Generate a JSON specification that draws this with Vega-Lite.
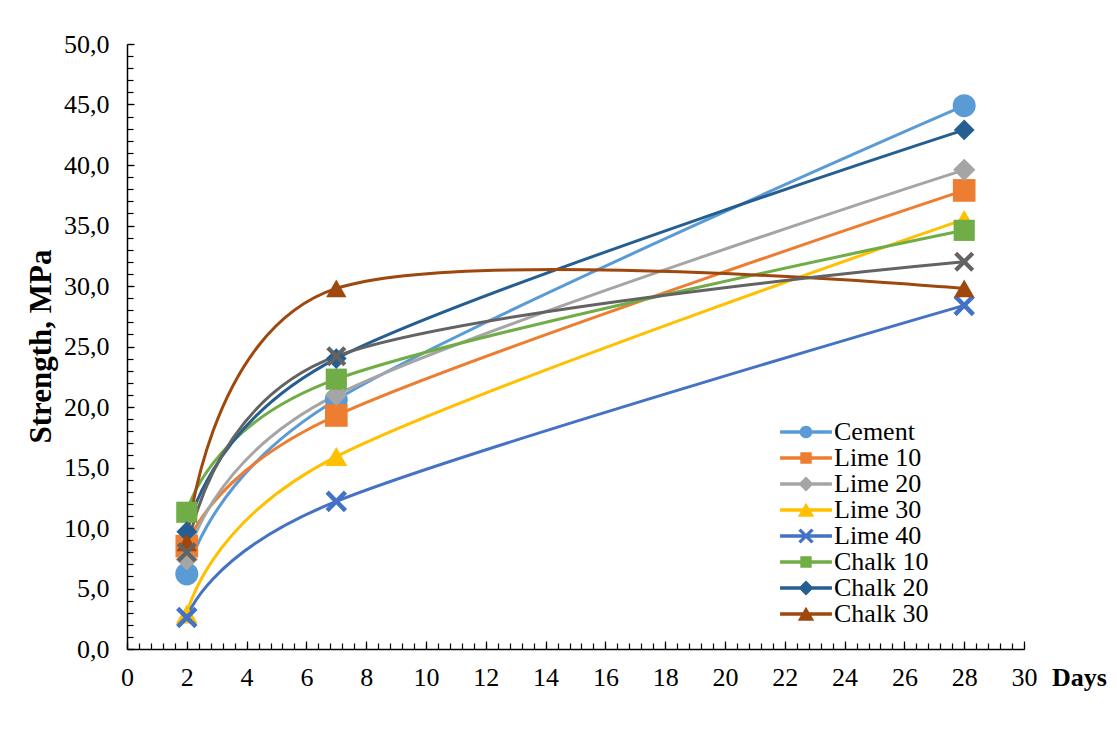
{
  "$schema": "https://vega.github.io/schema/vega-lite/v6.json",
  "width": 897,
  "height": 605,
  "autosize": {"type": "none"},
  "padding": {"left": 127, "top": 44, "right": 93, "bottom": 82},
  "background": "white",
  "config": {"view": {"stroke": null}, "font": "Liberation Serif", "axis": {"grid": false}},
  "data": {"values": [
    {"series": "Cement", "day": 2, "strength": 6.2},
    {"series": "Cement", "day": 7, "strength": 20.6},
    {"series": "Cement", "day": 28, "strength": 44.9},
    {"series": "Lime 10", "day": 2, "strength": 8.5},
    {"series": "Lime 10", "day": 7, "strength": 19.3},
    {"series": "Lime 10", "day": 28, "strength": 37.9},
    {"series": "Lime 20", "day": 2, "strength": 7.4},
    {"series": "Lime 20", "day": 7, "strength": 21.0},
    {"series": "Lime 20", "day": 28, "strength": 39.6},
    {"series": "Lime 30", "day": 2, "strength": 2.9},
    {"series": "Lime 30", "day": 7, "strength": 15.9},
    {"series": "Lime 30", "day": 28, "strength": 35.5},
    {"series": "Lime 40", "day": 2, "strength": 2.6},
    {"series": "Lime 40", "day": 7, "strength": 12.2},
    {"series": "Lime 40", "day": 28, "strength": 28.4},
    {"series": "Chalk 10", "day": 2, "strength": 11.3},
    {"series": "Chalk 10", "day": 7, "strength": 22.3},
    {"series": "Chalk 10", "day": 28, "strength": 34.6},
    {"series": "Chalk 20", "day": 2, "strength": 9.7},
    {"series": "Chalk 20", "day": 7, "strength": 24.0},
    {"series": "Chalk 20", "day": 28, "strength": 42.9},
    {"series": "Chalk 30", "day": 2, "strength": 8.8},
    {"series": "Chalk 30", "day": 7, "strength": 29.8},
    {"series": "Chalk 30", "day": 28, "strength": 29.8},
    {"series": "Series 9", "day": 2, "strength": 8.0},
    {"series": "Series 9", "day": 7, "strength": 24.2},
    {"series": "Series 9", "day": 28, "strength": 32.0}
  ]},
  "resolve": {"axis": {"x": "independent", "y": "independent"}, "scale": {"shape": "independent", "fill": "independent"}},
  "layer": [
    {
      "transform": [{"filter": "datum.series !== 'Series 9'"}],
      "mark": {"type": "line", "interpolate": "cardinal", "strokeWidth": 3},
      "encoding": {
        "x": {"field": "day", "type": "quantitative", "scale": {"domain": [0, 30], "nice": false},
          "axis": {"orient": "bottom", "values": [0,2,4,6,8,10,12,14,16,18,20,22,24,26,28,30], "format": "d",
            "ticks": false, "tickSize": 0, "domain": true, "domainColor": "black", "domainWidth": 1.5,
            "labelFont": "Liberation Serif", "labelFontSize": 26, "labelColor": "black", "labelPadding": 15,
            "labelFlush": false, "labelOverlap": false,
            "title": "Days", "titleFont": "Liberation Serif", "titleFontSize": 26, "titleFontWeight": "bold", "titleColor": "black",
            "titleX": 952, "titleY": 36, "titleAlign": "center", "titleBaseline": "alphabetic"}},
        "y": {"field": "strength", "type": "quantitative", "scale": {"domain": [0, 50], "nice": false},
          "axis": {"orient": "left", "values": [0,5,10,15,20,25,30,35,40,45,50],
            "ticks": false, "tickSize": 0, "domain": true, "domainColor": "black", "domainWidth": 1.5,
            "labelFont": "Liberation Serif", "labelFontSize": 26, "labelColor": "black", "labelPadding": 18,
            "labelFlush": false, "labelOverlap": false,
            "labelExpr": "replace(format(datum.value, '.1f'), '.', ',')",
            "title": "Strength, MPa", "titleFont": "Liberation Serif", "titleFontSize": 31, "titleFontWeight": "bold", "titleColor": "black",
            "titleX": -86, "titleY": 302, "titleAngle": -90, "titleAlign": "center", "titleBaseline": "middle"}},
        "stroke": {"field": "series", "type": "nominal",
          "scale": {"domain": ["Cement", "Lime 10", "Lime 20", "Lime 30", "Lime 40", "Chalk 10", "Chalk 20", "Chalk 30"],
                    "range": ["#5B9BD5", "#ED7D31", "#A5A5A5", "#FFC000", "#4472C4", "#70AD47", "#255E91", "#9E480E"]},
          "legend": null}
      }
    },
    {
      "transform": [{"filter": "datum.series === 'Series 9'"}],
      "mark": {"type": "line", "interpolate": "cardinal", "strokeWidth": 3, "stroke": "#636363"},
      "encoding": {
        "x": {"field": "day", "type": "quantitative", "scale": {"domain": [0, 30], "nice": false},
          "axis": {"orient": "bottom", "values": [0,0.4,0.8,1.2,1.6,2,2.4,2.8,3.2,3.6,4,4.4,4.8,5.2,5.6,6,6.4,6.8,7.2,7.6,8,8.4,8.8,9.2,9.6,10,10.4,10.8,11.2,11.6,12,12.4,12.8,13.2,13.6,14,14.4,14.8,15.2,15.6,16,16.4,16.8,17.2,17.6,18,18.4,18.8,19.2,19.6,20,20.4,20.8,21.2,21.6,22,22.4,22.8,23.2,23.6,24,24.4,24.8,25.2,25.6,26,26.4,26.8,27.2,27.6,28,28.4,28.8,29.2,29.6,30],
            "labels": false, "domain": false, "ticks": true, "tickSize": -6, "tickColor": "black", "tickWidth": 1.2, "title": null}},
        "y": {"field": "strength", "type": "quantitative", "scale": {"domain": [0, 50], "nice": false},
          "axis": {"orient": "left", "values": [0,1,2,3,4,5,6,7,8,9,10,11,12,13,14,15,16,17,18,19,20,21,22,23,24,25,26,27,28,29,30,31,32,33,34,35,36,37,38,39,40,41,42,43,44,45,46,47,48,49,50],
            "labels": false, "domain": false, "ticks": true, "tickSize": -6, "tickColor": "black", "tickWidth": 1.2, "title": null}}
      }
    },
    {
      "mark": {"type": "point", "filled": true, "opacity": 1, "strokeWidth": 0},
      "encoding": {
        "x": {"field": "day", "type": "quantitative", "scale": {"domain": [0, 30], "nice": false},
          "axis": {"orient": "bottom", "values": [0,2,4,6,8,10,12,14,16,18,20,22,24,26,28,30],
            "labels": false, "domain": false, "ticks": true, "tickSize": -8, "tickColor": "black", "tickWidth": 1.2, "title": null}},
        "y": {"field": "strength", "type": "quantitative", "scale": {"domain": [0, 50], "nice": false},
          "axis": {"orient": "left", "values": [0,5,10,15,20,25,30,35,40,45,50],
            "labels": false, "domain": false, "ticks": true, "tickSize": -7, "tickColor": "black", "tickWidth": 1.2, "title": null}},
        "fill": {"field": "series", "type": "nominal",
          "scale": {"domain": ["Cement", "Lime 10", "Lime 20", "Lime 30", "Lime 40", "Chalk 10", "Chalk 20", "Chalk 30", "Series 9"],
                    "range": ["#5B9BD5", "#ED7D31", "#A5A5A5", "#FFC000", "#4472C4", "#70AD47", "#255E91", "#9E480E", "#636363"]},
          "legend": null},
        "shape": {"field": "series", "type": "nominal",
          "scale": {"domain": ["Cement", "Lime 10", "Lime 20", "Lime 30", "Lime 40", "Chalk 10", "Chalk 20", "Chalk 30", "Series 9"],
                    "range": ["circle", "square", "diamond", "triangle-up", "M-1,-0.7L-0.7,-1L0,-0.3L0.7,-1L1,-0.7L0.3,0L1,0.7L0.7,1L0,0.3L-0.7,1L-1,0.7L-0.3,0Z", "square", "diamond", "triangle-up", "M-1,-0.7L-0.7,-1L0,-0.3L0.7,-1L1,-0.7L0.3,0L1,0.7L0.7,1L0,0.3L-0.7,1L-1,0.7L-0.3,0Z"]},
          "legend": null},
        "size": {"field": "series", "type": "nominal",
          "scale": {"domain": ["Cement", "Lime 10", "Lime 20", "Lime 30", "Lime 40", "Chalk 10", "Chalk 20", "Chalk 30", "Series 9"],
                    "range": [529, 400, 650, 441, 400, 400, 650, 441, 400]},
          "legend": null}
      }
    },
    {
      "transform": [{"filter": "datum.series !== 'Series 9'"}],
      "mark": {"type": "point", "filled": true, "opacity": 0, "strokeWidth": 0},
      "encoding": {
        "x": {"field": "day", "type": "quantitative", "scale": {"domain": [0, 30], "nice": false}, "axis": null},
        "y": {"field": "strength", "type": "quantitative", "scale": {"domain": [0, 50], "nice": false}, "axis": null},
        "fill": {"field": "series", "type": "nominal",
          "scale": {"domain": ["Cement", "Lime 10", "Lime 20", "Lime 30", "Lime 40", "Chalk 10", "Chalk 20", "Chalk 30"],
                    "range": ["#5B9BD5", "#ED7D31", "#A5A5A5", "#FFC000", "#4472C4", "#70AD47", "#255E91", "#9E480E"]},
          "legend": {"orient": "none", "legendX": 666, "legendY": 375, "direction": "vertical", "title": null,
            "symbolSize": 160, "symbolStrokeWidth": 0, "symbolOpacity": 1,
            "labelFont": "Liberation Serif", "labelFontSize": 26, "labelColor": "black", "labelOffset": 15,
            "rowPadding": 0, "padding": 0}},
        "shape": {"field": "series", "type": "nominal",
          "scale": {"domain": ["Cement", "Lime 10", "Lime 20", "Lime 30", "Lime 40", "Chalk 10", "Chalk 20", "Chalk 30"],
                    "range": [
                      "M-4.1,-0.27L4.1,-0.27L4.1,0.27L-4.1,0.27ZM-1,0A1,1 0 1,1 1,0A1,1 0 1,1 -1,0Z",
                      "M-4.1,-0.27L4.1,-0.27L4.1,0.27L-4.1,0.27ZM-0.9,-0.9L0.9,-0.9L0.9,0.9L-0.9,0.9Z",
                      "M-4.1,-0.27L4.1,-0.27L4.1,0.27L-4.1,0.27ZM-1.2,0L0,-1.2L1.2,0L0,1.2Z",
                      "M-4.1,-0.27L4.1,-0.27L4.1,0.27L-4.1,0.27ZM0,-1.15L1.3,1.05L-1.3,1.05Z",
                      "M-4.1,-0.27L4.1,-0.27L4.1,0.27L-4.1,0.27ZM-1.2,-0.84L-0.84,-1.2L0,-0.36L0.84,-1.2L1.2,-0.84L0.36,0L1.2,0.84L0.84,1.2L0,0.36L-0.84,1.2L-1.2,0.84L-0.36,0Z",
                      "M-4.1,-0.27L4.1,-0.27L4.1,0.27L-4.1,0.27ZM-0.9,-0.9L0.9,-0.9L0.9,0.9L-0.9,0.9Z",
                      "M-4.1,-0.27L4.1,-0.27L4.1,0.27L-4.1,0.27ZM-1.2,0L0,-1.2L1.2,0L0,1.2Z",
                      "M-4.1,-0.27L4.1,-0.27L4.1,0.27L-4.1,0.27ZM0,-1.15L1.3,1.05L-1.3,1.05Z"
                    ]},
          "legend": {"orient": "none", "legendX": 666, "legendY": 375, "direction": "vertical", "title": null,
            "symbolSize": 160, "symbolStrokeWidth": 0, "symbolOpacity": 1,
            "labelFont": "Liberation Serif", "labelFontSize": 26, "labelColor": "black", "labelOffset": 15,
            "rowPadding": 0, "padding": 0}}
      }
    }
  ]
}
